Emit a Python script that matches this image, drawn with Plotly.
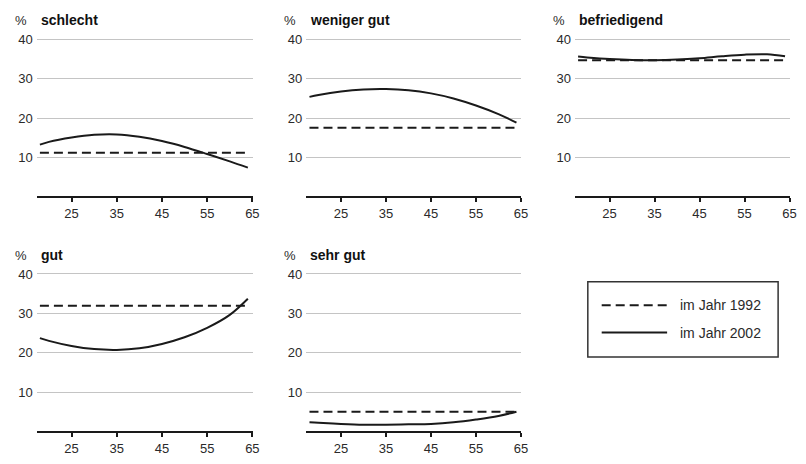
import plotly.graph_objects as go

# page is rendered with an 8px body margin; compensate
OFF = 8
PAGE_W, PAGE_H = 806, 464
W, H = PAGE_W - 2 * OFF, PAGE_H - 2 * OFF

titles = ["schlecht", "weniger gut", "befriedigend", "gut", "sehr gut"]
ages = [18, 20, 25, 30, 35, 40, 45, 50, 55, 60, 64]
age_range = [18, 64]

val_1992 = [11.1, 17.5, 34.8, 31.9, 5.0]

schlecht_2002 = [13.2, 13.9, 15.0, 15.7, 15.8, 15.2, 14.1, 12.6, 10.8, 8.9, 7.3]
weniger_gut_2002 = [25.4, 25.9, 26.8, 27.3, 27.4, 27.1, 26.3, 25.0, 23.2, 21.0, 18.8]
befriedigend_2002 = [35.7, 35.5, 35.1, 34.85, 34.8, 34.95, 35.3, 35.8, 36.2, 36.3, 35.8]
gut_2002 = [23.7, 23.0, 21.7, 20.9, 20.7, 21.1, 22.2, 23.9, 26.3, 29.6, 33.7]
sehr_gut_2002 = [2.3, 2.2, 1.9, 1.7, 1.7, 1.8, 1.9, 2.3, 3.0, 3.9, 5.0]
series_2002 = [schlecht_2002, weniger_gut_2002, befriedigend_2002, gut_2002, sehr_gut_2002]

x_ticks = [25, 35, 45, 55, 65]
y_ticks = [10, 20, 30, 40]
legend_labels = ["im Jahr 1992", "im Jahr 2002"]

FONT = "Liberation Sans, Arial, Helvetica, sans-serif"
INK = "#1a1a1a"
TXT = "#2a2a2a"


def px(x):
    return (x - OFF) / W


def py(y):
    return (H - (y - OFF)) / H


cols = [(37, 255), (309, 526), (580, 797)]
rows = [(199.5, 4.0), (440, 4.025)]  # zero pixel, px per unit
YMAX = 41.5
XR = [17.3, 65.1]

fig = go.Figure()
layout = dict(
    width=W, height=H, margin=dict(l=0, r=0, t=0, b=0),
    paper_bgcolor="white", plot_bgcolor="white", showlegend=False,
    font=dict(family=FONT, size=13, color=TXT),
)
annotations = []
shapes = []

for i, t in enumerate(titles):
    r, c = divmod(i, 3)
    x0, x1 = cols[c]
    zero, ppu = rows[r]
    top = zero - YMAX * ppu
    ax = "" if i == 0 else str(i + 1)
    layout["xaxis" + ax] = dict(
        domain=[px(x0), px(x1)], range=XR, anchor="y" + ax,
        showline=True, linecolor=INK, linewidth=2,
        ticks="outside", ticklen=4, tickwidth=1.5, tickcolor=INK,
        tickvals=x_ticks, showgrid=False, zeroline=False,
        tickfont=dict(size=13, color=TXT), fixedrange=True,
    )
    layout["yaxis" + ax] = dict(
        domain=[py(zero), py(top)], range=[0, YMAX], anchor="x" + ax,
        showline=False, ticks="", tickvals=y_ticks, showgrid=True,
        gridcolor="#c4c4c4", gridwidth=1, zeroline=False,
        tickfont=dict(size=13, color=TXT), fixedrange=True, ticklabelstandoff=3,
    )
    fig.add_trace(go.Scatter(
        x=age_range, y=[val_1992[i]] * 2, mode="lines",
        line=dict(color=INK, width=2, dash="9px,5px"),
        xaxis="x" + ax, yaxis="y" + ax, name=legend_labels[0]))
    fig.add_trace(go.Scatter(
        x=ages, y=series_2002[i], mode="lines",
        line=dict(color=INK, width=2, shape="spline", smoothing=1.0),
        xaxis="x" + ax, yaxis="y" + ax, name=legend_labels[1]))
    ty = zero - 180
    annotations.append(dict(x=px(x0 - 16), y=py(ty), xref="paper", yref="paper",
                            text="%", showarrow=False, xanchor="center", yanchor="middle",
                            font=dict(size=13, color=TXT)))
    annotations.append(dict(x=px(x0 + 2), y=py(ty), xref="paper", yref="paper",
                            text="<b>%s</b>" % t, showarrow=False, xanchor="left", yanchor="middle",
                            font=dict(size=14, color="#111")))

# legend box
bx0, bx1, by0, by1 = 593, 785, 287, 364
shapes.append(dict(type="rect", xref="paper", yref="paper",
                   x0=px(bx0), x1=px(bx1), y0=py(by1), y1=py(by0),
                   line=dict(color="#333", width=1.5), fillcolor="white"))
for k, (yy, dash) in enumerate([(311, "9px,5px"), (339, "solid")]):
    shapes.append(dict(type="line", xref="paper", yref="paper",
                       x0=px(607), x1=px(673), y0=py(yy), y1=py(yy),
                       line=dict(color=INK, width=2, dash=dash)))
    annotations.append(dict(x=px(684), y=py(yy), xref="paper", yref="paper",
                            text=legend_labels[k], showarrow=False, xanchor="left", yanchor="middle",
                            font=dict(size=14, color=TXT)))

layout["annotations"] = annotations
layout["shapes"] = shapes
fig.update_layout(**layout)
fig.write_html("out.html")
